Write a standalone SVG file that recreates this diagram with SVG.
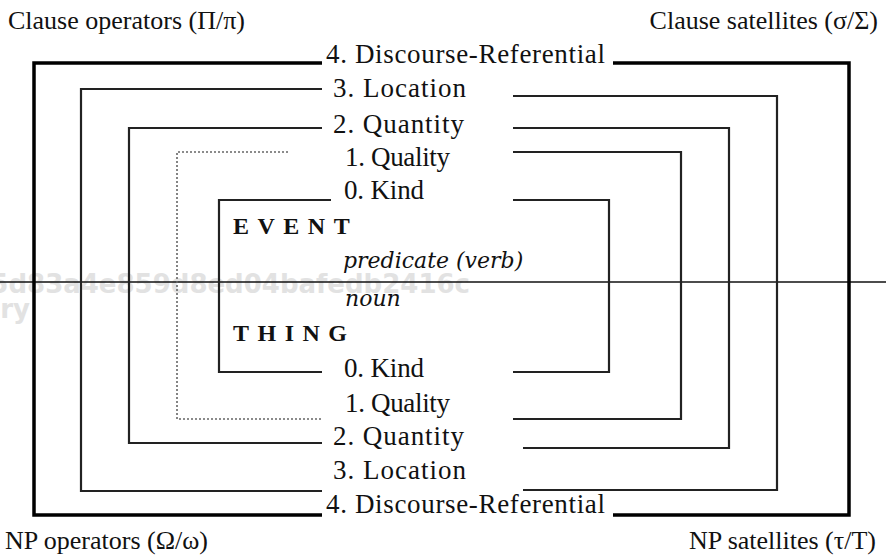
<svg xmlns="http://www.w3.org/2000/svg" width="886" height="557" viewBox="0 0 886 557">
<style>
text{font-family:"Liberation Serif","Times New Roman",serif;fill:#111;font-size:26px}
.lab{font-size:27px}
.cap{font-size:26px}
.big{font-weight:bold;font-size:24px;letter-spacing:8.5px}
.it{font-family:"DejaVu Serif","Liberation Serif",serif;font-style:italic;font-size:22px}
.wm{font-family:"DejaVu Sans","Liberation Sans",sans-serif;font-weight:bold;fill:#e2e2e2;font-size:26px}
.thick{fill:none;stroke:#000;stroke-width:3.5}
.thin{fill:none;stroke:#222;stroke-width:2.2}
.dot{fill:none;stroke:#666;stroke-width:1.6;stroke-dasharray:2 2}
.axis{fill:none;stroke:#111;stroke-width:1.4}
</style>
<rect width="886" height="557" fill="#fff"/>
<g id="watermark">
<text class="wm" x="470" y="293" text-anchor="end">7f5d83a4e859d8ed04bafedb2416c</text>
<text class="wm" x="30" y="318" text-anchor="end">ary</text>
</g>
<g id="connectors">
<line class="axis" x1="0" y1="282" x2="886" y2="282"/>
<polyline class="thick" points="322,63 34,63 34,515 322,515"/>
<polyline class="thick" points="613,63 849,63 849,515 613,515"/>
<polyline class="thin" points="322,89 81,89 81,491 322,491"/>
<polyline class="thin" points="513,96 777,96 777,490 523,490"/>
<polyline class="thin" points="322,128 129,128 129,443 322,443"/>
<polyline class="thin" points="513,128 729,128 729,448 523,448"/>
<polyline class="dot" points="288,152 177,152 177,419 322,419"/>
<polyline class="thin" points="513,152 681,152 681,419 513,419"/>
<polyline class="thin" points="331,200 219,200 219,372 322,372"/>
<polyline class="thin" points="513,200 609,200 609,372 513,372"/>
</g>
<g id="corner-clause-operators"><text class="cap" x="8" y="29">Clause operators (Π/π)</text></g>
<g id="corner-clause-satellites"><text class="cap" x="878" y="29" text-anchor="end">Clause satellites (σ/Σ)</text></g>
<g id="corner-np-operators"><text class="cap" x="5" y="549">NP operators (Ω/ω)</text></g>
<g id="corner-np-satellites"><text class="cap" x="876" y="549" text-anchor="end">NP satellites (τ/T)</text></g>
<g id="clause-4"><text class="lab" x="326" y="63" textLength="279" lengthAdjust="spacing">4. Discourse-Referential</text></g>
<g id="clause-3"><text class="lab" x="333" y="97" textLength="133" lengthAdjust="spacing">3. Location</text></g>
<g id="clause-2"><text class="lab" x="333" y="133" textLength="131" lengthAdjust="spacing">2. Quantity</text></g>
<g id="clause-1"><text class="lab" x="345" y="166" textLength="105" lengthAdjust="spacing">1. Quality</text></g>
<g id="clause-0"><text class="lab" x="344" y="199" textLength="80" lengthAdjust="spacing">0. Kind</text></g>
<g id="event"><text class="big" x="233" y="234">EVENT</text></g>
<g id="predicate"><text class="it" x="343" y="268">predicate (verb)</text></g>
<g id="noun"><text class="it" x="345" y="306">noun</text></g>
<g id="thing"><text class="big" x="233" y="341">THING</text></g>
<g id="np-0"><text class="lab" x="344" y="377" textLength="80" lengthAdjust="spacing">0. Kind</text></g>
<g id="np-1"><text class="lab" x="345" y="412" textLength="105" lengthAdjust="spacing">1. Quality</text></g>
<g id="np-2"><text class="lab" x="333" y="445" textLength="131" lengthAdjust="spacing">2. Quantity</text></g>
<g id="np-3"><text class="lab" x="333" y="479" textLength="133" lengthAdjust="spacing">3. Location</text></g>
<g id="np-4"><text class="lab" x="326" y="513" textLength="279" lengthAdjust="spacing">4. Discourse-Referential</text></g>
</svg>
